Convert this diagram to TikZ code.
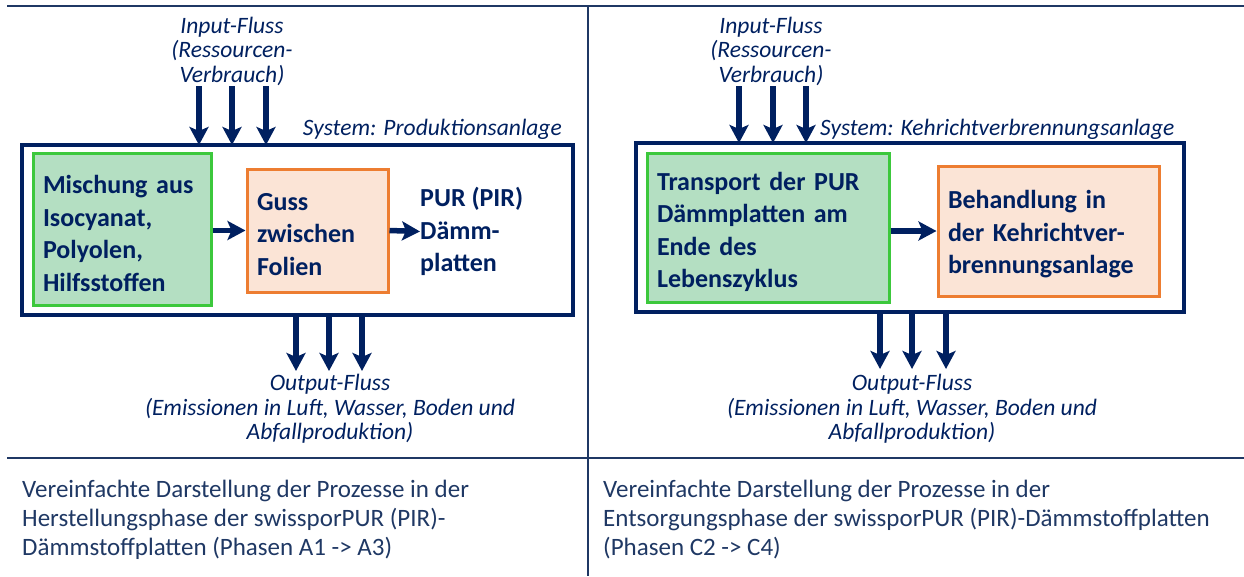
\documentclass[tikz,border=0pt]{standalone}
\usepackage{fontspec}
\setmainfont{Carlito}
\usetikzlibrary{arrows.meta}
\definecolor{navy}{HTML}{002060}
\definecolor{rulec}{HTML}{1F3864}
\definecolor{gfill}{HTML}{B4DFC2}
\definecolor{gdraw}{HTML}{3CC83C}
\definecolor{ofill}{HTML}{FBE4D6}
\definecolor{odraw}{HTML}{ED7D31}
\begin{document}
\begin{tikzpicture}[x=1pt,y=-1pt,
  flow/.style={draw=navy, line width=5.5pt, -{Stealth[length=18pt,width=19pt,inset=4pt]}},
  sysbox/.style={draw=navy, line width=4pt, inner sep=0pt, outer sep=0pt},
  gbox/.style={draw=gdraw, fill=gfill, line width=3pt, inner xsep=10pt, inner ysep=0pt, align=left,
     font=\fontsize{26}{32.5}\selectfont\bfseries, text=navy, execute at begin node={\rule{0pt}{27pt}}},
  obox/.style={draw=odraw, fill=ofill, line width=3pt, inner xsep=10pt, inner ysep=0pt, align=left,
     font=\fontsize{26}{32.5}\selectfont\bfseries, text=navy, execute at begin node={\rule{0pt}{25pt}}},
  prodtext/.style={font=\fontsize{26}{32.5}\selectfont\bfseries, text=navy, align=left, inner sep=0pt, anchor=west},
  ital/.style={font=\fontsize{23.5}{24.5}\selectfont\itshape, text=navy, align=center, inner sep=0pt},
  captext/.style={font=\fontsize{25}{29}\selectfont, text=rulec, align=left, inner sep=0pt, anchor=north west},
  sepline/.style={draw=rulec, line width=2pt}]
\useasboundingbox (0,0) rectangle (1244,576);
% frame lines
\draw[sepline] (7,6) -- (1244,6);
\draw[sepline] (7,458) -- (1244,458);
\draw[sepline] (588,6) -- (588,576);

% ===== left panel =====
\node[sysbox, minimum width=551pt, minimum height=170pt] (sysL) at (297.5,230) {};
\node[ital, anchor=base east] (sysLlab) at (562,135) {System: Produktionsanlage};
\node[gbox, text width=158pt, minimum height=152pt] (gL) at (122,229)
  {Mischung aus\\Isocyanat,\\Polyolen,\\Hilfsstoffen};
\node[obox, text width=121pt, minimum height=123pt] (oL) at (317.5,230.5)
  {Guss\\zwischen\\Folien};
\node[prodtext] (pL) at (420,231.5) {PUR (PIR)\\Dämm-\\platten};
\draw[flow] (gL.east |- oL.west) -- (oL.west);
\draw[flow] (oL.east) -- (pL.west);

\node[ital] (inL) at (232,51) {Input-Fluss\\(Ressourcen-\\Verbrauch)};
\foreach \x [count=\i] in {199,232,266}{
  \coordinate (inL\i) at (\x,86);
  \draw[flow] (inL\i) -- (inL\i |- sysL.north);
}
\foreach \x [count=\i] in {296,329,362}{
  \coordinate (outL\i) at (\x,371);
  \draw[flow] (outL\i |- sysL.south) -- (outL\i);
}
\node[ital] (outLtxt) at (330,409) {Output-Fluss\\(Emissionen in Luft, Wasser, Boden und\\Abfallproduktion)};

\node[captext] (capL) at (22,480) {Vereinfachte Darstellung der Prozesse in der\\Herstellungsphase der swissporPUR (PIR)-\\Dämmstoffplatten (Phasen A1 -> A3)};

% ===== right panel =====
\node[sysbox, minimum width=548pt, minimum height=169pt] (sysR) at (910,227.5) {};
\node[ital, anchor=base west] (sysRlab) at (820,135) {System: Kehrichtverbrennungsanlage};
\node[gbox, text width=222pt, minimum height=149pt] (gR) at (768,227.5)
  {Transport der PUR\\Dämmplatten am\\Ende des\\Lebenszyklus};
\node[obox, text width=201pt, minimum height=130pt] (oR) at (1048.5,231)
  {Behandlung in\\der Kehrichtver-\\brennungsanlage};
\draw[flow] (gR.east |- oR.west) -- (oR.west);

\node[ital] (inR) at (771,51) {Input-Fluss\\(Ressourcen-\\Verbrauch)};
\foreach \x [count=\i] in {739,773,806}{
  \coordinate (inR\i) at (\x,86);
  \draw[flow] (inR\i) -- (inR\i |- sysR.north);
}
\foreach \x [count=\i] in {880,912,946}{
  \coordinate (outR\i) at (\x,369);
  \draw[flow] (outR\i |- sysR.south) -- (outR\i);
}
\node[ital] (outRtxt) at (912,409) {Output-Fluss\\(Emissionen in Luft, Wasser, Boden und\\Abfallproduktion)};

\node[captext] (capR) at (603,480) {Vereinfachte Darstellung der Prozesse in der\\Entsorgungsphase der swissporPUR (PIR)-Dämmstoffplatten\\(Phasen C2 -> C4)};
\end{tikzpicture}
\end{document}
